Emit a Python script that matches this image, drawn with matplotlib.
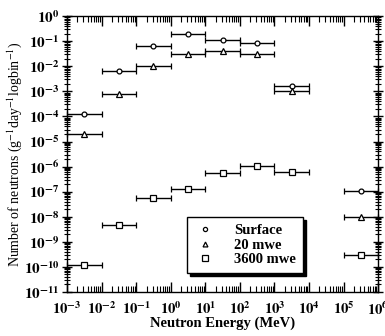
import numpy as np
import matplotlib
matplotlib.use('Agg')
import matplotlib.pyplot as plt
import matplotlib.ticker as mticker
from matplotlib.lines import Line2D

plt.rcParams['font.family'] = ['Liberation Serif', 'DejaVu Serif']
plt.rcParams['mathtext.fontset'] = 'stix'

# energy bins (MeV), one decade each, point at the log centre
bin_lo = [1e-3, 1e-2, 1e-1, 1e0, 1e1, 1e2, 1e3, 1e5]
bin_hi = [1e-2, 1e-1, 1e0, 1e1, 1e2, 1e3, 1e4, 1e6]

# neutrons per g per day per log bin
surface = [1.26e-4, 6.2e-3, 6.3e-2, 1.9e-1, 1.15e-1, 8.3e-2, 1.6e-3, 1.1e-7]
mwe20 = [2.0e-5, 7.8e-4, 1.0e-2, 3.0e-2, 4.1e-2, 3.0e-2, 1.05e-3, 1.0e-8]
mwe3600 = [1.2e-10, 4.9e-9, 5.8e-8, 1.3e-7, 5.4e-7, 1.1e-6, 6.3e-7, 3.0e-10]

series = [('Surface', surface, 'o', 3.5), ('20 mwe', mwe20, '^', 4), ('3600 mwe', mwe3600, 's', 4.5)]

x_lo = np.array(bin_lo)
x_hi = np.array(bin_hi)
x_c = np.sqrt(x_lo * x_hi)

fig = plt.figure(figsize=(3.85, 3.36), dpi=100)
ax = fig.add_axes([0.174, 0.131, 0.808, 0.821])

handles = []
for name, vals, mk, ms in series:
    ax.errorbar(x_c, vals, xerr=[x_c - x_lo, x_hi - x_c], fmt=mk, ms=ms,
                mfc='white', mec='black', mew=0.9, ecolor='black', elinewidth=1,
                capsize=2.5, capthick=1, clip_on=False)
    handles.append(Line2D([], [], ls='none', marker=mk, ms=ms - 0.5, mfc='white',
                          mec='black', mew=0.9, label=name))

ax.set_xscale('log')
ax.set_yscale('log')
ax.set_xlim(1e-3, 1e6)
ax.set_ylim(1e-11, 1e0)

ax.xaxis.set_major_locator(mticker.LogLocator(base=10, numticks=20))
ax.xaxis.set_minor_locator(mticker.LogLocator(base=10, subs=np.arange(2, 10), numticks=20))
ax.yaxis.set_major_locator(mticker.LogLocator(base=10, numticks=20))
ax.yaxis.set_minor_locator(mticker.LogLocator(base=10, subs=np.arange(2, 10), numticks=20))


def fmt(v, pos):
    e = int(round(np.log10(v)))
    return r'$\mathbf{10^{%d}}$' % e


ax.xaxis.set_major_formatter(mticker.FuncFormatter(fmt))
ax.yaxis.set_major_formatter(mticker.FuncFormatter(fmt))

ax.tick_params(axis='x', which='both', direction='in', top=True, labelsize=10.5, pad=6)
ax.tick_params(axis='y', which='both', direction='inout', right=True, labelsize=11, pad=2)
ax.tick_params(which='major', length=7, width=1)
ax.tick_params(which='minor', length=4, width=0.8)
for s in ax.spines.values():
    s.set_linewidth(1)

ax.set_xlabel('Neutron Energy (MeV)', fontsize=10.5, fontweight='bold', labelpad=-1)
ax.set_ylabel(r'Number of neutrons (g$^{-1}$day$^{-1}$logbin$^{-1}$)', fontsize=10, labelpad=0)

leg = ax.legend(handles=handles, loc='lower left', bbox_to_anchor=(0.386, 0.069),
                borderaxespad=0, frameon=True, fancybox=False, handlelength=1.5,
                handletextpad=1.3, borderpad=0.45, labelspacing=0.1,
                shadow={'color': 'black', 'alpha': 1, 'ox': 2, 'oy': -2},
                prop={'weight': 'bold', 'size': 10.5})
leg.get_frame().set_edgecolor('black')
leg.get_frame().set_linewidth(1)

plt.savefig('out.png', dpi=100)
plt.close()
